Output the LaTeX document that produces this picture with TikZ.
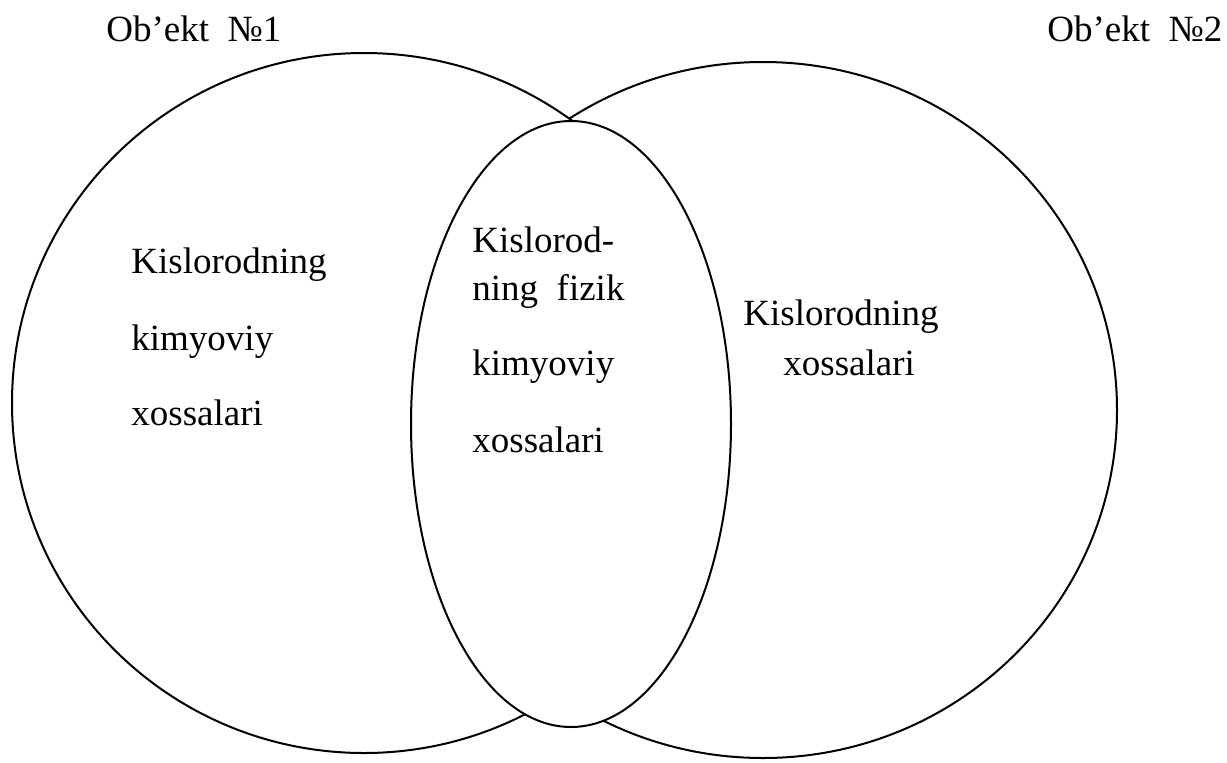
\documentclass[tikz,border=0pt]{standalone}
\usepackage{fontspec}
\setmainfont{LiberationSerif}[Extension=.ttf, UprightFont=*-Regular]

\tikzset{
  doira/.style={draw, fill=white, line width=1pt},
  matn/.style={anchor=base west, inner sep=0pt, font=\fontsize{18.5}{22}\selectfont}
}

\begin{document}
\begin{tikzpicture}[x=0.5pt, y=-0.5pt]
          \useasboundingbox (0,0) rectangle (1227,762);

          %Doiralar
          \draw[doira] (763,410) ellipse [x radius=354, y radius=348];  %Ob'ekt 2
          \draw[doira] (364,403) ellipse [x radius=352, y radius=350];  %Ob'ekt 1
          \draw[doira] (571,424) ellipse [x radius=160, y radius=303];  %umumiy

          %Sarlavhalar
          \node[matn] (obj1) at (106,41) {Ob’ekt\ \ №1};
          \node[matn] (obj2) at (1047,41) {Ob’ekt\ \ №2};

          \foreach \y/\t [count=\i] in {273/Kislorodning, 350/kimyoviy, 425/xossalari}
          \node[matn] (chap\i) at (131,\y) {\t};

          \foreach \y/\t [count=\i] in {252/Kislorod-, 300/{ning\ \ fizik}, 375/kimyoviy, 452/xossalari}
          \node[matn] (orta\i) at (472,\y) {\t};

          \node[matn] (ong1) at (743,325) {Kislorodning};
          \node[matn] (ong2) at (783,375) {xossalari};

        \end{tikzpicture}
\end{document}
